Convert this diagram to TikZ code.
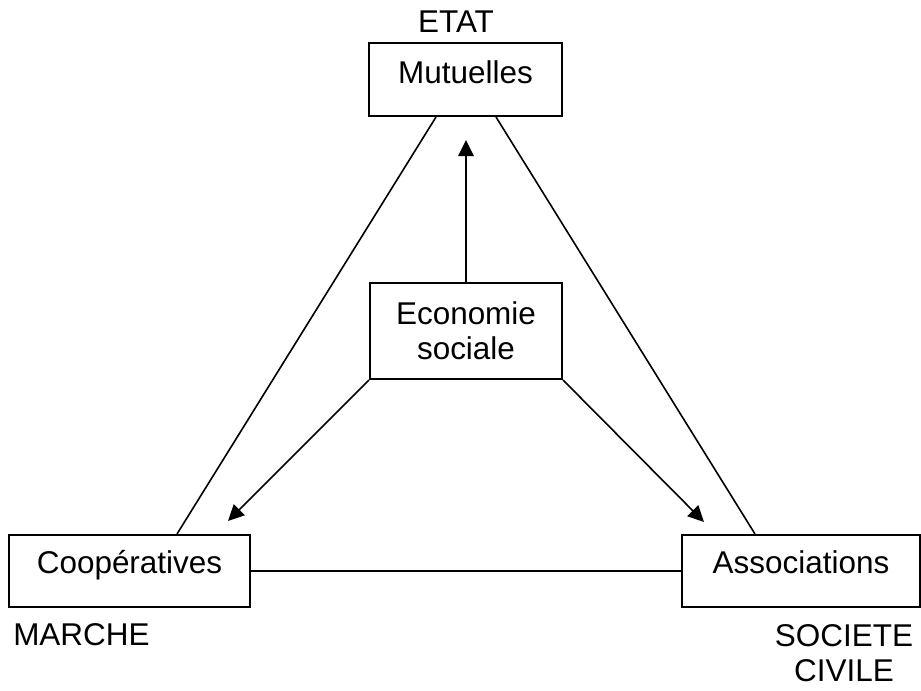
\documentclass[tikz,border=0pt]{standalone}
\usepackage{fontspec}
\setmainfont{Liberation Sans}
\usetikzlibrary{arrows.meta,calc}
\begin{document}
\begin{tikzpicture}[x=0.75pt,y=-0.75pt,
  every node/.style={font=\fontsize{23.6pt}{26.25pt}\selectfont, inner sep=0pt},
  box/.style={draw, line width=1.5pt, align=center},
  conn/.style={line width=1.2pt},
  arr/.style={conn, -{Triangle[length=12pt,width=11.5pt]}}]
\useasboundingbox (0,0) rectangle (921,690);
% boxes
\node[box, minimum width=144.75pt, minimum height=54.75pt, text height=18pt, text depth=12.75pt] (mut) at (465.5,79.5) {Mutuelles};
\node[box, minimum width=144pt, minimum height=72pt] (econ) at (466,331) {Economie\\sociale};
\node[box, minimum width=180.75pt, minimum height=54pt, text height=18pt, text depth=15pt] (coop) at (129.5,571) {Coopératives};
\node[box, minimum width=178.5pt, minimum height=54pt, text height=18pt, text depth=15pt] (assoc) at (801,571) {Associations};
% labels
\node[anchor=base] (etat) at (456,32) {ETAT};
\node[anchor=base west] (marche) at (13,645) {MARCHE};
\node[anchor=north, align=center] (soc) at (844,624) {SOCIETE\\CIVILE};
% triangle sides
\draw[conn] ($(mut.south)+(-29.5,0)$) -- ($(coop.north)+(47.5,0)$);
\draw[conn] ($(mut.south)+(30.5,0)$) -- ($(assoc.north)+(-46,0)$);
\draw[conn] (coop.east) -- (assoc.west);
% arrows
\coordinate (tipU) at ($(mut.south)+(0.5,23)$);
\coordinate (tipL) at ($(coop.north east)+(-23,-13)$);
\coordinate (tipR) at ($(assoc.north west)+(23,-12)$);
\draw[arr] (econ.north) -- (tipU);
\draw[arr] (econ.south west) -- (tipL);
\draw[arr] (econ.south east) -- (tipR);
\end{tikzpicture}
\end{document}
